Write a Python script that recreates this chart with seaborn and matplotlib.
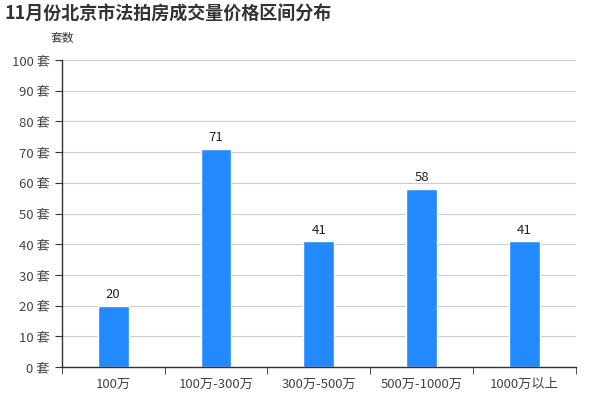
import pandas as pd
import seaborn as sns
import matplotlib.pyplot as plt
import numpy as np

categories = ['100万', '100万-300万', '300万-500万', '500万-1000万', '1000万以上']
counts = [20, 71, 41, 58, 41]
yticks = list(range(0, 101, 10))

sns.set_style('white')
plt.rcParams['font.family'] = ['Noto Sans CJK SC', 'DejaVu Sans']

df = pd.DataFrame({'区间': categories, '套数': counts})

fig = plt.figure(figsize=(6, 4), dpi=100)
ax = fig.add_axes([0.103, 0.0825, 0.857, 0.7675])
sns.barplot(data=df, x='区间', y='套数', order=categories, color='#2389FF',
            width=0.3, saturation=1, ax=ax)

for i, v in enumerate(counts):
    ax.text(i, v + 1.5, str(v), ha='center', va='bottom', fontsize=9.5, color='#222222')

ax.set_ylim(0, 100)
ax.set_xlim(-0.5, len(categories) - 0.5)
ax.set_yticks(yticks)
ax.set_yticklabels([f'{t} 套' for t in yticks], fontsize=9.5, color='#444444')
ax.tick_params(axis='x', length=0, labelsize=9.5, labelcolor='#444444', pad=8)
ax.set_xticks(np.arange(-0.5, len(categories)), minor=True)
ax.tick_params(axis='x', which='minor', length=5, color='#333333', bottom=True)
ax.tick_params(axis='y', length=5, color='#333333', left=True)
ax.yaxis.grid(True, color='#cccccc', linewidth=0.8)
ax.set_axisbelow(True)
for s in ['top', 'right']:
    ax.spines[s].set_visible(False)
for s in ['left', 'bottom']:
    ax.spines[s].set_color('#333333')
    ax.spines[s].set_linewidth(1)
ax.set_xlabel('')
ax.set_ylabel('')

fig.text(0.008, 0.965, '11月份北京市法拍房成交量价格区间分布', fontsize=13,
         fontweight='bold', color='#333333', va='center', ha='left')
fig.text(0.085, 0.905, '套数', fontsize=8.5, color='#333333', va='center', ha='left')

fig.savefig('out.png', dpi=100)
